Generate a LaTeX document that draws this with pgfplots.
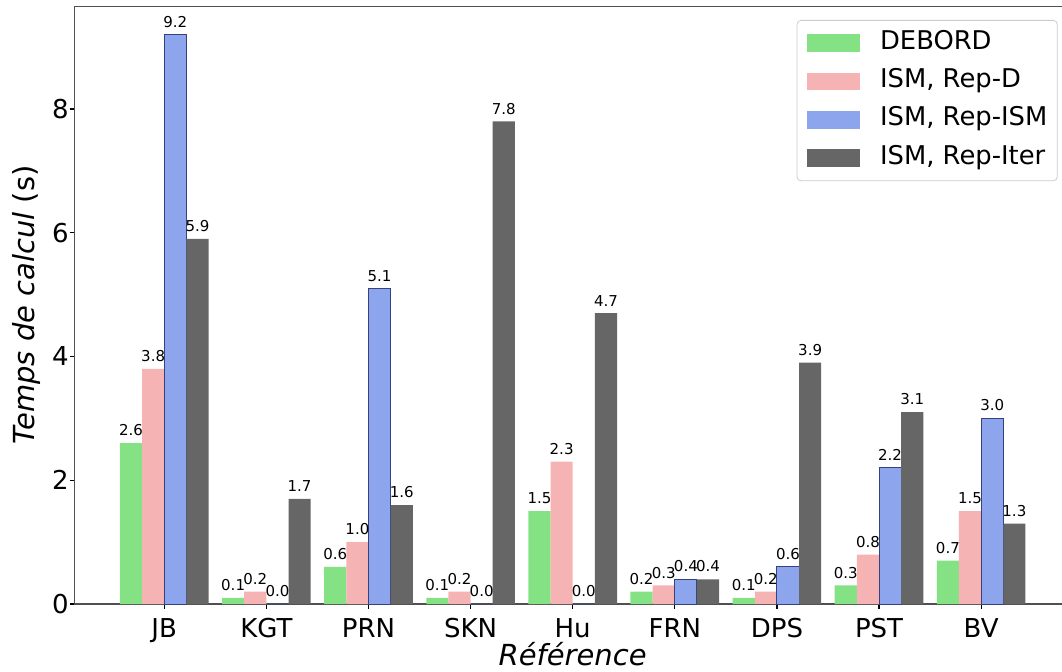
\documentclass[border=0pt]{standalone}
\usepackage{pgfplots}
\pgfplotsset{compat=1.18}
\usepackage{fontspec}
\setmainfont{DejaVu Sans}
\definecolor{cgreen}{RGB}{132,225,132}
\definecolor{cpink}{RGB}{246,179,179}
\definecolor{cblue}{RGB}{141,165,237}
\definecolor{cgray}{RGB}{102,102,102}
\definecolor{cedge}{RGB}{55,65,125}
\definecolor{cspine}{RGB}{80,80,80}
\begin{document}
\begin{tikzpicture}
\begin{axis}[
  name=ax,
  scale only axis,
  width=498pt, height=298.85pt,
  xmin=-0.877, xmax=8.877,
  ymin=0, ymax=9.66,
  ybar,
  bar width=0.217,
  axis line style={cspine, line width=0.6pt},
  tick style={black, line width=0.6pt},
  tick align=outside,
  major tick length=2.4pt,
  xtick={0,...,8},
  xticklabels={JB,KGT,PRN,SKN,Hu,FRN,DPS,PST,BV},
  ytick={0,2,4,6,8},
  xtick pos=bottom, ytick pos=left,
  /pgf/number format/assume math mode=true,
  tick label style={font=\fontsize{13}{15}\selectfont},
  yticklabel style={inner sep=0pt, xshift=-0.45pt},
  xticklabel style={inner sep=0pt, anchor=base, yshift=-14.5pt},
  xlabel={\textit{Référence}},
  ylabel={\textit{Temps de calcul} (s)},
  label style={font=\fontsize{14.5}{16}\selectfont},
  xlabel style={at={(axis description cs:0.5,0)}, anchor=base, inner sep=0pt, yshift=-30.5pt},
  ylabel style={at={(axis description cs:0,0.5)}, anchor=base, inner sep=0pt, yshift=20pt},
  nodes near coords={\pgfmathprintnumber[fixed,fixed zerofill,precision=1]{\pgfplotspointmeta}},
  every node near coord/.append style={font=\fontsize{7.5}{9}\selectfont, inner sep=0pt, anchor=south, yshift=3.35pt, black},
  legend style={at={(1,1)}, anchor=north east, xshift=-6.5pt, yshift=-6.85pt,
    draw={rgb,255:red,204;green,204;blue,204}, rounded corners=2pt, fill=white,
    font=\fontsize{12.9}{14}\selectfont,
    inner xsep=5pt, inner ysep=1.8pt, row sep=0pt,
    nodes={inner xsep=0pt, inner ysep=0pt, text height=12.7pt, text depth=6.45pt},
    /tikz/every odd column/.append style={column sep=10.15pt}},
  legend cell align=left,
  every axis plot post/.append style={legend image code/.code={\fill[##1,draw=none,sharp corners] (0pt,-4.4pt) rectangle (26.35pt,4.45pt);}},
]
\addplot[fill=cgreen, draw=none, bar shift=-0.3255] coordinates {(0,2.6) (1,0.1) (2,0.6) (3,0.1) (4,1.5) (5,0.2) (6,0.1) (7,0.3) (8,0.7)};
\addplot[fill=cpink, draw=none, bar shift=-0.1085] coordinates {(0,3.8) (1,0.2) (2,1.0) (3,0.2) (4,2.3) (5,0.3) (6,0.2) (7,0.8) (8,1.5)};
\addplot[fill=cblue, draw=cedge, line width=0.5pt, bar shift=0.1085] coordinates {(0,9.2) (1,0.0) (2,5.1) (3,0.0) (4,0.0) (5,0.4) (6,0.6) (7,2.2) (8,3.0)};
\addplot[fill=cgray, draw=none, bar shift=0.3255] coordinates {(0,5.9) (1,1.7) (2,1.6) (3,7.8) (4,4.7) (5,0.4) (6,3.9) (7,3.1) (8,1.3)};
\legend{DEBORD, {ISM, Rep-D}, {ISM, Rep-ISM}, {ISM, Rep-Iter}}
\end{axis}
\pgfresetboundingbox
\path[use as bounding box] ([xshift=-37.35pt,yshift=-33.5pt]ax.south west) rectangle ([xshift=-4.35pt,yshift=3.15pt]ax.north east);
\end{tikzpicture}
\end{document}
